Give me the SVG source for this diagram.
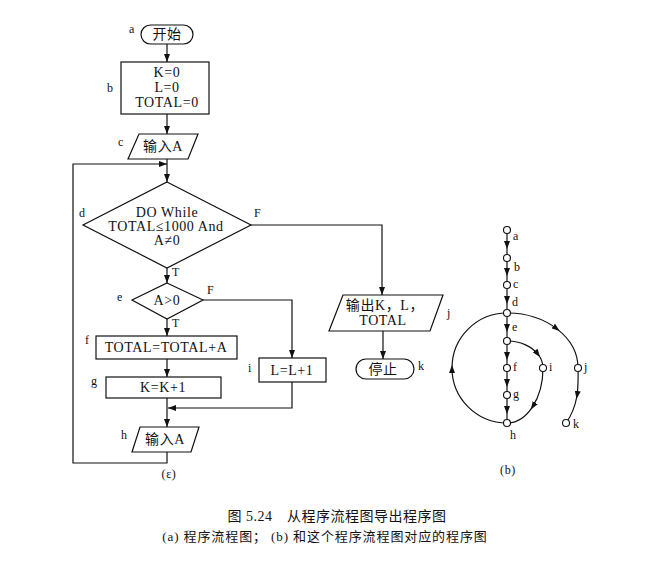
<svg xmlns="http://www.w3.org/2000/svg" width="660" height="564" viewBox="0 0 660 564">
<style>
.s{fill:#fff;stroke:#111;stroke-width:1.2}
.ln{fill:none;stroke:#111;stroke-width:1.2}
.t{font-family:"Liberation Serif","Noto Sans CJK SC",serif;font-size:14px;letter-spacing:0.6px;fill:#111;text-anchor:middle}
.l{font-family:"Liberation Serif",serif;font-size:12px;fill:#111}
.n{fill:#fff;stroke:#111;stroke-width:1.1}
.cap{font-family:"Liberation Serif","Noto Sans CJK SC",serif;fill:#111;text-anchor:middle}
</style>
<defs>
<marker id="ah" markerWidth="8" markerHeight="6" refX="8" refY="3" orient="auto" markerUnits="userSpaceOnUse"><path d="M0,0 L8,3 L0,6 z" fill="#111"/></marker>
<marker id="am" markerWidth="8" markerHeight="6" refX="5" refY="3" orient="auto" markerUnits="userSpaceOnUse"><path d="M0,0 L8,3 L0,6 z" fill="#111"/></marker>
</defs>
<rect width="660" height="564" fill="#fff"/>

<g id="connectors">
<line class="ln" x1="167" y1="43" x2="167" y2="62" marker-end="url(#ah)"/>
<line class="ln" x1="167" y1="114" x2="167" y2="134" marker-end="url(#ah)"/>
<line class="ln" x1="167" y1="159" x2="167" y2="182" marker-end="url(#ah)"/>
<polyline class="ln" points="167,452 167,463 73,463 73,164 167,164" marker-end="url(#ah)"/>
<line class="ln" x1="167" y1="268" x2="167" y2="283" marker-end="url(#ah)"/>
<polyline class="ln" points="251,225 382,225 382,295" marker-end="url(#ah)"/>
<line class="ln" x1="167" y1="319" x2="167" y2="336" marker-end="url(#ah)"/>
<polyline class="ln" points="203,300 292,300 292,358" marker-end="url(#ah)"/>
<line class="ln" x1="167" y1="359" x2="167" y2="377" marker-end="url(#ah)"/>
<line class="ln" x1="167" y1="398" x2="167" y2="427" marker-end="url(#ah)"/>
<polyline class="ln" points="292,382 292,408 168,408" marker-end="url(#ah)"/>
<line class="ln" x1="383" y1="331" x2="383" y2="359" marker-end="url(#ah)"/>

<path class="ln" d="M507,230 L507,246 L507,258" marker-mid="url(#am)"/>
<path class="ln" d="M507,258 L507,273 L507,285" marker-mid="url(#am)"/>
<path class="ln" d="M507,285 L507,301 L507,313" marker-mid="url(#am)"/>
<path class="ln" d="M507,313 L507,329 L507,341" marker-mid="url(#am)"/>
<path class="ln" d="M507,341 L507,357 L507,368" marker-mid="url(#am)"/>
<path class="ln" d="M507,368 L507,384 L507,395" marker-mid="url(#am)"/>
<path class="ln" d="M507,395 L507,411 L507,423" marker-mid="url(#am)"/>
<path class="ln" d="M507,423 A55,55 0 0,1 452,368 A55,55 0 0,1 507,313" marker-mid="url(#am)"/>
<path class="ln" d="M507,313 A71,55 0 0,1 557.2,329.1 A71,55 0 0,1 578,368" marker-mid="url(#am)"/>
<path class="ln" d="M507,341 A36,27 0 0,1 538.2,354.5 A36,27 0 0,1 543,368" marker-mid="url(#am)"/>
<path class="ln" d="M543,368 A36,55 0 0,1 532.5,406.9 A36,55 0 0,1 507,423" marker-mid="url(#am)"/>
<path class="ln" d="M578,368 Q578.5,384 577,396 Q574,412 566,423" marker-mid="url(#am)"/>
</g>

<g id="node-a">
<rect class="s" x="141" y="25" width="52" height="19" rx="9.5"/>
<text class="t" x="167" y="39">开始</text>
<text class="l" x="129" y="33">a</text>
</g>
<g id="node-b">
<rect class="s" x="121" y="62" width="88" height="52"/>
<text class="t" x="167" y="77">K=0</text>
<text class="t" x="167" y="92">L=0</text>
<text class="t" x="167" y="107">TOTAL=0</text>
<text class="l" x="107" y="92">b</text>
</g>
<g id="node-c">
<polygon class="s" points="139,134 198,134 188,159 128,159"/>
<text class="t" x="163" y="151">输入A</text>
<text class="l" x="118" y="146">c</text>
</g>
<g id="node-d">
<polygon class="s" points="167,182 251,225 167,268 83,225"/>
<text class="t" x="167" y="217">DO While</text>
<text class="t" x="166" y="231">TOTAL≤1000 And</text>
<text class="t" x="167" y="245">A≠0</text>
<text class="l" x="79" y="217">d</text>
<text class="l" x="254" y="217">F</text>
<text class="l" x="172" y="276">T</text>
</g>
<g id="node-e">
<polygon class="s" points="167,283 203,300 167,319 132,300"/>
<text class="t" x="167" y="305">A&gt;0</text>
<text class="l" x="117" y="301">e</text>
<text class="l" x="207" y="294">F</text>
<text class="l" x="172" y="327">T</text>
</g>
<g id="node-f">
<rect class="s" x="96" y="336" width="141" height="23"/>
<text class="t" x="166" y="352">TOTAL=TOTAL+A</text>
<text class="l" x="85" y="344">f</text>
</g>
<g id="node-g">
<rect class="s" x="106" y="377" width="115" height="21"/>
<text class="t" x="163" y="392">K=K+1</text>
<text class="l" x="91" y="385">g</text>
</g>
<g id="node-i">
<rect class="s" x="259" y="358" width="67" height="24"/>
<text class="t" x="292" y="375">L=L+1</text>
<text class="l" x="248" y="372">i</text>
</g>
<g id="node-h">
<polygon class="s" points="140,427 199,427 191,452 132,452"/>
<text class="t" x="165" y="444">输入A</text>
<text class="l" x="121" y="439">h</text>
</g>
<g id="node-j">
<polygon class="s" points="343,295 443,295 430,331 329,331"/>
<text class="t" x="385" y="310">输出K，L，</text>
<text class="t" x="383" y="325">TOTAL</text>
<text class="l" x="447" y="317">j</text>
</g>
<g id="node-k">
<rect class="s" x="356" y="359" width="58" height="20" rx="10"/>
<text class="t" x="383" y="374">停止</text>
<text class="l" x="418" y="370">k</text>
</g>
<text class="t" x="169" y="478" style="font-size:12px">(ε)</text>

<g id="graph-nodes">
<circle class="n" cx="507" cy="230" r="3.5"/><text class="l" x="513" y="240">a</text>
<circle class="n" cx="507" cy="258" r="3.5"/><text class="l" x="514" y="271">b</text>
<circle class="n" cx="507" cy="285" r="3.5"/><text class="l" x="513" y="288">c</text>
<circle class="n" cx="507" cy="313" r="3.5"/><text class="l" x="512" y="306">d</text>
<circle class="n" cx="507" cy="341" r="3.5"/><text class="l" x="512" y="331">e</text>
<circle class="n" cx="507" cy="368" r="3.5"/><text class="l" x="513" y="371">f</text>
<circle class="n" cx="507" cy="395" r="3.5"/><text class="l" x="513" y="398">g</text>
<circle class="n" cx="507" cy="423" r="3.5"/><text class="l" x="510" y="439">h</text>
<circle class="n" cx="543" cy="368" r="3.5"/><text class="l" x="549" y="371">i</text>
<circle class="n" cx="578" cy="368" r="3.5"/><text class="l" x="584" y="371">j</text>
<circle class="n" cx="566" cy="423" r="3.5"/><text class="l" x="573" y="428">k</text>
<text class="t" x="508" y="474" style="font-size:12px">(b)</text>
</g>

<text class="cap" x="337" y="521" style="font-size:14px;letter-spacing:0.5px">图 5.24　从程序流程图导出程序图</text>
<text class="cap" x="325" y="541" style="font-size:13px;letter-spacing:0.9px">(a) 程序流程图；  (b) 和这个程序流程图对应的程序图</text>
</svg>
